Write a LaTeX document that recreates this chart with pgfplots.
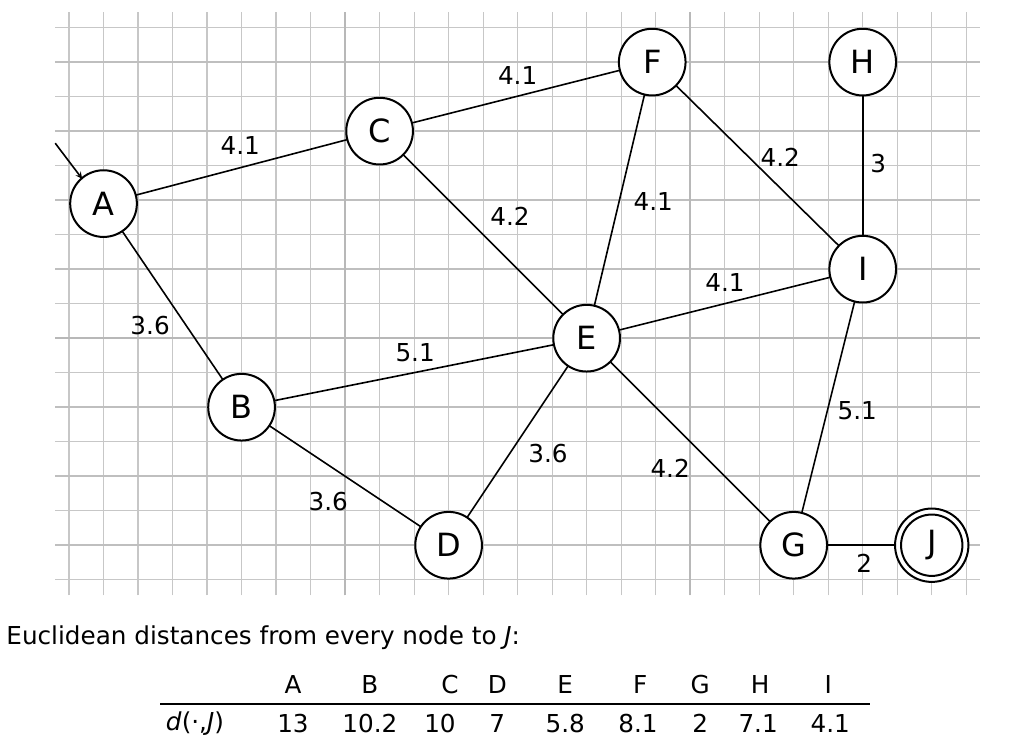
\documentclass[border=0pt]{standalone}
\usepackage{pgfplots}
\pgfplotsset{compat=1.18}
\usepackage{fontspec}
\setmainfont{DejaVu Sans}
\begin{document}
\begin{tikzpicture}
\begin{axis}[hide axis, scale only axis, x=25.875pt, y=25.875pt,
  xmin=-10, xmax=19.5, ymin=-12.09, ymax=9.8, clip=false]
\path (axis cs:-10,9.8) rectangle (axis cs:19.5,-12.09);
% grid
\pgfplotsinvokeforeach{-8,...,18}{\draw[black!22, line width=0.9pt] (axis cs:#1,-7.45) -- (axis cs:#1,9.45);}
\pgfplotsinvokeforeach{-7,...,9}{\draw[black!22, line width=0.9pt] (axis cs:-8.4,#1) -- (axis cs:18.4,#1);}
\pgfplotsinvokeforeach{-6,-4,...,8}{\draw[black!25, line width=1.2pt] (axis cs:-8.4,#1) -- (axis cs:18.4,#1);}
\draw[black!28, line width=1.8pt] (axis cs:0,-7.45) -- (axis cs:0,9.45);
\draw[black!28, line width=1.8pt] (axis cs:10,-7.45) -- (axis cs:10,9.45);
\draw[black!28, line width=1.8pt] (axis cs:-8.4,0) -- (axis cs:18.4,0);
% start arrow
\draw[-stealth, line width=1.2pt] (axis cs:-8.4,5.65) -- (axis cs:-7.62,4.62);
% edges
\pgfplotsset{edge/.style={no marks, line width=1.2pt, black}}
\addplot[edge] coordinates {(-7,3.9) (1,6)};
\addplot[edge] coordinates {(1,6) (8.9,8)};
\addplot[edge] coordinates {(1,6) (7,0)};
\addplot[edge] coordinates {(8.9,8) (7,0)};
\addplot[edge] coordinates {(8.9,8) (15,2)};
\addplot[edge] coordinates {(15,8) (15,2)};
\addplot[edge] coordinates {(7,0) (15,2)};
\addplot[edge] coordinates {(-7,3.9) (-3,-2)};
\addplot[edge] coordinates {(-3,-2) (7,0)};
\addplot[edge] coordinates {(-3,-2) (3,-6)};
\addplot[edge] coordinates {(7,0) (3,-6)};
\addplot[edge] coordinates {(7,0) (13,-6)};
\addplot[edge] coordinates {(15,2) (13,-6)};
\addplot[edge] coordinates {(13,-6) (17,-6)};
% nodes
\addplot[only marks, mark=*, mark size=25pt, mark options={fill=white, draw=black, line width=1.5pt},
  nodes near coords, point meta=explicit symbolic,
  every node near coord/.style={anchor=center, font=\fontsize{24}{24}\selectfont}]
  table[meta=l] {
x y l
-7 3.9 A
1 6 C
8.9 8 F
15 8 H
15 2 I
7 0 E
-3 -2 B
3 -6 D
13 -6 G
};
\addplot[only marks, mark=*, mark size=27.5pt, mark options={fill=white, draw=black, line width=1.5pt}]
  coordinates {(17,-6)};
\addplot[only marks, mark=*, mark size=23pt, mark options={fill=white, draw=black, line width=1.5pt},
  nodes near coords, point meta=explicit symbolic,
  every node near coord/.style={anchor=center, font=\fontsize{24}{24}\selectfont}]
  table[meta=l] {
x y l
17 -6 J
};
% edge labels
\addplot[only marks, mark=none, nodes near coords, point meta=explicit symbolic,
  every node near coord/.style={anchor=center, font=\fontsize{18.5}{18.5}\selectfont}]
  table[meta=l] {
x y l
-3.04 5.59 4.1
5.0 7.62 4.1
4.78 3.54 4.2
8.93 3.97 4.1
12.61 5.25 4.2
15.45 5.07 3
11.01 1.62 4.1
-5.65 0.38 3.6
2.03 -0.43 5.1
5.88 -3.33 3.6
-0.49 -4.72 3.6
9.42 -3.77 4.2
14.84 -2.09 5.1
15.04 -6.52 2
};
% table
\node[anchor=west, font=\fontsize{18.5}{18.5}\selectfont] at (axis cs:-9.95,-8.67) {Euclidean distances from every node to \textit{J}:};
\draw[line width=1.3pt] (axis cs:-5.36,-10.61) -- (axis cs:15.22,-10.61);
\addplot[only marks, mark=none, nodes near coords, point meta=explicit symbolic,
  every node near coord/.style={anchor=center, font=\fontsize{18.5}{18.5}\selectfont}]
  table[meta=l] {
x y l
-1.51 -10.05 A
0.72 -10.05 B
3.04 -10.05 C
4.41 -10.05 D
6.38 -10.05 E
8.55 -10.05 F
10.29 -10.05 G
12.03 -10.05 H
14.0 -10.05 I
-1.51 -11.16 13
0.72 -11.16 10.2
2.75 -11.16 10
4.41 -11.16 7
6.38 -11.16 5.8
8.49 -11.16 8.1
10.29 -11.16 2
11.97 -11.16 7.1
14.06 -11.16 4.1
};
\node[anchor=center, font=\fontsize{18.5}{18.5}\selectfont] at (axis cs:-4.35,-11.16) {\textit{d}(·,\textit{J})};
\end{axis}
\end{tikzpicture}
\end{document}
